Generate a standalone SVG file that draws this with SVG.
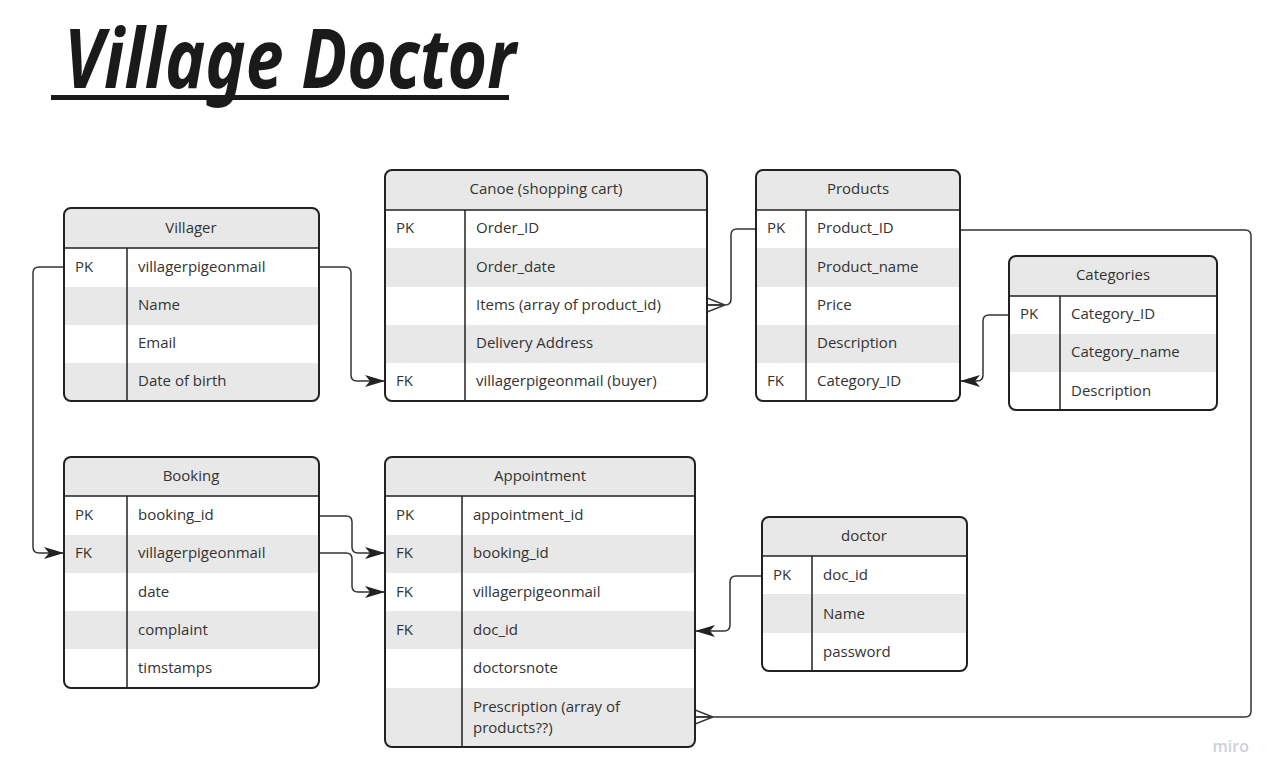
<svg xmlns="http://www.w3.org/2000/svg" width="1278" height="782" viewBox="0 0 1278 782">
<style>
.t{font-family:"Open Sans","Noto Sans","Liberation Sans",sans-serif;font-size:15px;fill:#333}
.h{text-anchor:middle}
.g{fill:#e8e8e8}
.w{fill:#ffffff}
.bd{fill:none;stroke:#222;stroke-width:2}
.ln{fill:none;stroke:#222;stroke-width:1.5}
.c{fill:none;stroke:#333;stroke-width:1.5}
.title{font-family:"Noto Sans","DejaVu Sans",sans-serif;font-style:italic;font-weight:bold;font-size:82px;fill:#1a1a1a}
</style>
<defs>
<marker id="arr" viewBox="0 0 20 12" refX="20" refY="6" markerWidth="20" markerHeight="12" markerUnits="userSpaceOnUse" orient="auto">
<path d="M0,0 L20,6 L0,12 L5,6 Z" fill="#222"/>
</marker>
<marker id="crow" viewBox="0 0 18 16" refX="18" refY="8" markerWidth="18" markerHeight="16" markerUnits="userSpaceOnUse" orient="auto">
<path d="M0,8 L18,1 M0,8 L18,15 M0,8 L18,8" fill="none" stroke="#333" stroke-width="1.5"/>
</marker>
<clipPath id="cV"><rect x="64" y="208" width="255" height="193" rx="7"/></clipPath>
<clipPath id="cC"><rect x="385" y="170" width="322" height="231" rx="7"/></clipPath>
<clipPath id="cP"><rect x="756" y="170" width="204" height="231" rx="7"/></clipPath>
<clipPath id="cK"><rect x="1009" y="256" width="208" height="154" rx="7"/></clipPath>
<clipPath id="cB"><rect x="64" y="457" width="255" height="231" rx="7"/></clipPath>
<clipPath id="cA"><rect x="385" y="457" width="310" height="290" rx="7"/></clipPath>
<clipPath id="cD"><rect x="762" y="517" width="205" height="154" rx="7"/></clipPath>
</defs>
<rect width="1278" height="782" fill="#ffffff"/>

<g id="title">
<text class="title" x="64" y="88" textLength="452" lengthAdjust="spacingAndGlyphs">Village Doctor</text>
<rect x="51" y="95" width="458" height="5" fill="#1a1a1a"/>
</g>

<g id="connectors">
<path class="c" d="M319,267 H345 Q351,267 351,273 V375 Q351,381 357,381 H385" marker-end="url(#arr)"/>
<path class="c" d="M64,267 H39 Q33,267 33,273 V547 Q33,553 39,553 H64" marker-end="url(#arr)"/>
<path class="c" d="M756,229 H737 Q731,229 731,235 V299 Q731,305 725,305 H707" marker-end="url(#crow)"/>
<path class="c" d="M1009,315 H989 Q983,315 983,321 V375 Q983,381 977,381 H960" marker-end="url(#arr)"/>
<path class="c" d="M319,516 H346 Q352,516 352,522 V547 Q352,553 358,553 H385" marker-end="url(#arr)"/>
<path class="c" d="M319,553 H346 Q352,553 352,559 V586 Q352,592 358,592 H385" marker-end="url(#arr)"/>
<path class="c" d="M762,576 H736 Q730,576 730,582 V625 Q730,631 724,631 H695" marker-end="url(#arr)"/>
<path class="c" d="M960,230 H1245 Q1251,230 1251,236 V711 Q1251,717 1245,717 H695" marker-end="url(#crow)"/>
</g>

<g id="villager">
<g clip-path="url(#cV)">
<rect class="w" x="64" y="208" width="255" height="193"/>
<rect class="g" x="64" y="208" width="255" height="40"/>
<rect class="g" x="64" y="287" width="255" height="38"/>
<rect class="g" x="64" y="363" width="255" height="38"/>
</g>
<line class="ln" x1="64" y1="248" x2="319" y2="248"/>
<line class="ln" x1="127" y1="248" x2="127" y2="401"/>
<rect class="bd" x="64" y="208" width="255" height="193" rx="7"/>
<text class="t h" x="191" y="233">Villager</text>
<text class="t" x="75" y="272">PK</text>
<text class="t" x="138" y="272">villagerpigeonmail</text>
<text class="t" x="138" y="310">Name</text>
<text class="t" x="138" y="348">Email</text>
<text class="t" x="138" y="386">Date of birth</text>
</g>

<g id="canoe">
<g clip-path="url(#cC)">
<rect class="w" x="385" y="170" width="322" height="231"/>
<rect class="g" x="385" y="170" width="322" height="40"/>
<rect class="g" x="385" y="248" width="322" height="39"/>
<rect class="g" x="385" y="325" width="322" height="38"/>
</g>
<line class="ln" x1="385" y1="210" x2="707" y2="210"/>
<line class="ln" x1="465" y1="210" x2="465" y2="401"/>
<rect class="bd" x="385" y="170" width="322" height="231" rx="7"/>
<text class="t h" x="546" y="194">Canoe (shopping cart)</text>
<text class="t" x="396" y="233">PK</text>
<text class="t" x="476" y="233">Order_ID</text>
<text class="t" x="476" y="272">Order_date</text>
<text class="t" x="476" y="310">Items (array of product_id)</text>
<text class="t" x="476" y="348">Delivery Address</text>
<text class="t" x="396" y="386">FK</text>
<text class="t" x="476" y="386">villagerpigeonmail (buyer)</text>
</g>

<g id="products">
<g clip-path="url(#cP)">
<rect class="w" x="756" y="170" width="204" height="231"/>
<rect class="g" x="756" y="170" width="204" height="40"/>
<rect class="g" x="756" y="248" width="204" height="39"/>
<rect class="g" x="756" y="325" width="204" height="38"/>
</g>
<line class="ln" x1="756" y1="210" x2="960" y2="210"/>
<line class="ln" x1="806" y1="210" x2="806" y2="401"/>
<rect class="bd" x="756" y="170" width="204" height="231" rx="7"/>
<text class="t h" x="858" y="194">Products</text>
<text class="t" x="767" y="233">PK</text>
<text class="t" x="817" y="233">Product_ID</text>
<text class="t" x="817" y="272">Product_name</text>
<text class="t" x="817" y="310">Price</text>
<text class="t" x="817" y="348">Description</text>
<text class="t" x="767" y="386">FK</text>
<text class="t" x="817" y="386">Category_ID</text>
</g>

<g id="categories">
<g clip-path="url(#cK)">
<rect class="w" x="1009" y="256" width="208" height="154"/>
<rect class="g" x="1009" y="256" width="208" height="40"/>
<rect class="g" x="1009" y="334" width="208" height="38"/>
</g>
<line class="ln" x1="1009" y1="296" x2="1217" y2="296"/>
<line class="ln" x1="1060" y1="296" x2="1060" y2="410"/>
<rect class="bd" x="1009" y="256" width="208" height="154" rx="7"/>
<text class="t h" x="1113" y="280">Categories</text>
<text class="t" x="1020" y="319">PK</text>
<text class="t" x="1071" y="319">Category_ID</text>
<text class="t" x="1071" y="357">Category_name</text>
<text class="t" x="1071" y="396">Description</text>
</g>

<g id="booking">
<g clip-path="url(#cB)">
<rect class="w" x="64" y="457" width="255" height="231"/>
<rect class="g" x="64" y="457" width="255" height="39"/>
<rect class="g" x="64" y="535" width="255" height="38"/>
<rect class="g" x="64" y="611" width="255" height="38"/>
</g>
<line class="ln" x1="64" y1="496" x2="319" y2="496"/>
<line class="ln" x1="127" y1="496" x2="127" y2="688"/>
<rect class="bd" x="64" y="457" width="255" height="231" rx="7"/>
<text class="t h" x="191" y="481">Booking</text>
<text class="t" x="75" y="520">PK</text>
<text class="t" x="138" y="520">booking_id</text>
<text class="t" x="75" y="558">FK</text>
<text class="t" x="138" y="558">villagerpigeonmail</text>
<text class="t" x="138" y="597">date</text>
<text class="t" x="138" y="635">complaint</text>
<text class="t" x="138" y="673">timstamps</text>
</g>

<g id="appointment">
<g clip-path="url(#cA)">
<rect class="w" x="385" y="457" width="310" height="290"/>
<rect class="g" x="385" y="457" width="310" height="39"/>
<rect class="g" x="385" y="535" width="310" height="38"/>
<rect class="g" x="385" y="611" width="310" height="38"/>
<rect class="g" x="385" y="688" width="310" height="59"/>
</g>
<line class="ln" x1="385" y1="496" x2="695" y2="496"/>
<line class="ln" x1="462" y1="496" x2="462" y2="747"/>
<rect class="bd" x="385" y="457" width="310" height="290" rx="7"/>
<text class="t h" x="540" y="481">Appointment</text>
<text class="t" x="396" y="520">PK</text>
<text class="t" x="473" y="520">appointment_id</text>
<text class="t" x="396" y="558">FK</text>
<text class="t" x="473" y="558">booking_id</text>
<text class="t" x="396" y="597">FK</text>
<text class="t" x="473" y="597">villagerpigeonmail</text>
<text class="t" x="396" y="635">FK</text>
<text class="t" x="473" y="635">doc_id</text>
<text class="t" x="473" y="673">doctorsnote</text>
<text class="t" x="473" y="712">Prescription (array of</text>
<text class="t" x="473" y="733">products??)</text>
</g>

<g id="doctor">
<g clip-path="url(#cD)">
<rect class="w" x="762" y="517" width="205" height="154"/>
<rect class="g" x="762" y="517" width="205" height="39"/>
<rect class="g" x="762" y="594" width="205" height="39"/>
</g>
<line class="ln" x1="762" y1="556" x2="967" y2="556"/>
<line class="ln" x1="812" y1="556" x2="812" y2="671"/>
<rect class="bd" x="762" y="517" width="205" height="154" rx="7"/>
<text class="t h" x="864" y="541">doctor</text>
<text class="t" x="773" y="580">PK</text>
<text class="t" x="823" y="580">doc_id</text>
<text class="t" x="823" y="619">Name</text>
<text class="t" x="823" y="657">password</text>
</g>

<text x="1249" y="752" text-anchor="end" style="font-family:'Open Sans','Noto Sans',sans-serif;font-size:16px;font-weight:600;fill:#cfcfda">miro</text>
</svg>
